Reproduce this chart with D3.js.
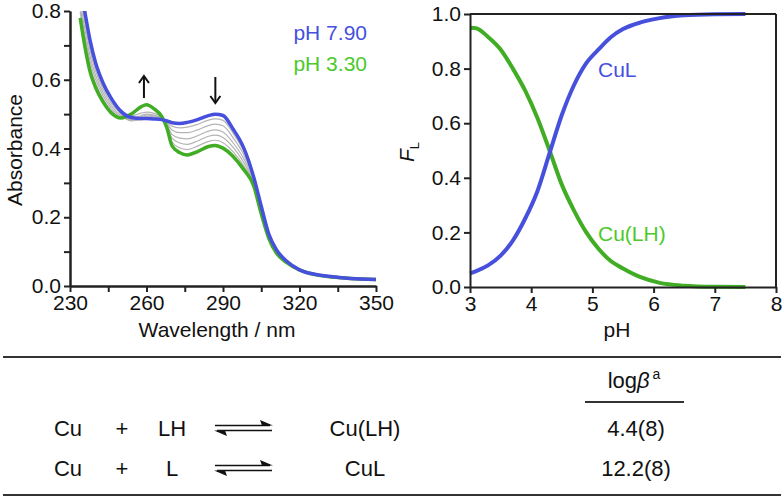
<!DOCTYPE html>
<html><head><meta charset="utf-8">
<script src="https://cdn.jsdelivr.net/npm/d3@7"></script>
<style>
html,body{margin:0;padding:0;background:#fff;}
svg{display:block;font-family:"Liberation Sans",Arial,sans-serif;}
.axis path,.axis line{stroke:#222;stroke-width:2px;}
.axis text{font-size:21px;fill:#111;font-family:"Liberation Sans",Arial,sans-serif;}
</style></head>
<body>
<svg id="c" width="784" height="498"></svg>
<script>
// ---------- Data ----------
const wavelengths = [234,236,238,240,243,246,250,254,258,260,263,266,268,270,273,276,280,284,287,290,294,298,302,305,308,311,315,320,326,333,340,350];
const absHighPH = [0.88,0.79,0.71,0.65,0.59,0.548,0.508,0.490,0.487,0.487,0.486,0.484,0.480,0.475,0.473,0.476,0.484,0.495,0.500,0.496,0.456,0.404,0.318,0.232,0.150,0.105,0.072,0.047,0.034,0.027,0.022,0.019];
const absLowPH  = [0.78,0.69,0.62,0.578,0.535,0.505,0.489,0.500,0.522,0.527,0.515,0.493,0.460,0.408,0.388,0.381,0.391,0.405,0.409,0.401,0.377,0.340,0.292,0.210,0.138,0.095,0.068,0.047,0.033,0.026,0.022,0.019];
const absMid1 = [0.865,0.775,0.697,0.639,0.582,0.542,0.505,0.484,0.483,0.489,0.488,0.485,0.477,0.465,0.460,0.462,0.470,0.482,0.486,0.482,0.444,0.394,0.314,0.229,0.148,0.104,0.071,0.047,0.034,0.027,0.022,0.019];
const absMid2 = [0.848,0.758,0.681,0.627,0.572,0.534,0.500,0.480,0.485,0.494,0.492,0.486,0.474,0.454,0.446,0.446,0.454,0.466,0.471,0.466,0.431,0.384,0.310,0.225,0.146,0.102,0.071,0.047,0.034,0.027,0.022,0.019];
const absMid3 = [0.830,0.740,0.665,0.614,0.562,0.526,0.495,0.482,0.492,0.498,0.495,0.488,0.470,0.441,0.430,0.428,0.437,0.450,0.454,0.448,0.416,0.372,0.305,0.221,0.144,0.100,0.070,0.047,0.034,0.027,0.022,0.019];
const absMid4 = [0.813,0.723,0.650,0.602,0.553,0.519,0.493,0.488,0.496,0.500,0.497,0.490,0.467,0.430,0.416,0.412,0.422,0.435,0.439,0.432,0.403,0.361,0.301,0.217,0.142,0.098,0.069,0.047,0.033,0.026,0.022,0.019];
const absMid5 = [0.797,0.707,0.635,0.590,0.544,0.512,0.491,0.494,0.503,0.506,0.502,0.491,0.463,0.419,0.402,0.397,0.407,0.420,0.424,0.417,0.390,0.351,0.296,0.214,0.140,0.097,0.068,0.047,0.033,0.026,0.022,0.019];
const spectraLabels = ["pH 7.90","pH 3.30"];
const wlTicks = [230,260,290,320,350];
const wlMinorTicks = [245,275,305,335];
const absTicks = [0.0,0.2,0.4,0.6,0.8];
const absMinorTicks = [0.1,0.3,0.5,0.7];

const pHvalues = [3.0,3.1,3.3,3.5,3.7,3.9,4.1,4.3,4.5,4.7,4.9,5.1,5.3,5.5,5.8,6.1,6.5,7.0,7.5];
const fracCuL   = [0.05,0.058,0.08,0.115,0.17,0.25,0.35,0.49,0.63,0.74,0.82,0.87,0.915,0.945,0.970,0.985,0.995,0.999,1.0];
const fracCuLH  = [0.95,0.948,0.915,0.87,0.80,0.72,0.62,0.50,0.375,0.28,0.20,0.14,0.095,0.068,0.035,0.015,0.005,0.001,0.0];
const speciesLabels = ["CuL","Cu(LH)"];
const pHTicks = [3,4,5,6,7,8];
const fracTicks = [0.0,0.2,0.4,0.6,0.8,1.0];

const eqReactantA = ["Cu","Cu"];
const eqReactantB = ["LH","L"];
const eqProduct = ["Cu(LH)","CuL"];
const logBeta = ["4.4(8)","12.2(8)"];

// ---------- Styles ----------
const BLUE = "#4650dc", GREEN_LINE = "#41ad24", GREEN_TEXT = "#4cc92c", GREY = "#b4b4b4";

const svg = d3.select("#c");

// ---------- Left panel ----------
const xL = d3.scaleLinear().domain([230,350]).range([70,376]);
const yL = d3.scaleLinear().domain([0,0.8]).range([286,11]);

svg.append("clipPath").attr("id","clipL").append("rect")
  .attr("x",70).attr("y",11).attr("width",310).attr("height",275);

const lineL = vals => d3.line().x((d,i)=>xL(wavelengths[i])).y(d=>yL(d)).curve(d3.curveMonotoneX)(vals);
const gL = svg.append("g").attr("clip-path","url(#clipL)");
[absMid1,absMid2,absMid3,absMid4,absMid5].forEach(v=>{
  gL.append("path").attr("d",lineL(v)).attr("fill","none").attr("stroke",GREY).attr("stroke-width",1.2);
});
gL.append("path").attr("d",lineL(absLowPH)).attr("fill","none").attr("stroke",GREEN_LINE).attr("stroke-width",3.5);
gL.append("path").attr("d",lineL(absHighPH)).attr("fill","none").attr("stroke",BLUE).attr("stroke-width",3.5);

// axes
svg.append("g").attr("class","axis").attr("transform","translate(0,286)")
  .call(d3.axisBottom(xL).tickValues(wlMinorTicks).tickSize(6).tickSizeOuter(0).tickFormat(""));
svg.append("g").attr("class","axis").attr("transform","translate(0,286)")
  .call(d3.axisBottom(xL).tickValues(wlTicks).tickSize(6).tickSizeOuter(0).tickPadding(3).tickFormat(d3.format("d")));
svg.append("g").attr("class","axis").attr("transform","translate(70,0)")
  .call(d3.axisLeft(yL).tickValues(absMinorTicks).tickSize(6).tickSizeOuter(0).tickFormat(""));
svg.append("g").attr("class","axis").attr("transform","translate(70,0)")
  .call(d3.axisLeft(yL).tickValues(absTicks).tickSize(6).tickSizeOuter(0).tickPadding(3).tickFormat(d3.format(".1f")));

svg.append("text").attr("x",217).attr("y",337).attr("text-anchor","middle")
  .attr("font-size",21).attr("fill","#111").text("Wavelength / nm");
svg.append("text").attr("transform","translate(22,150) rotate(-90)").attr("text-anchor","middle")
  .attr("font-size",21).attr("fill","#111").text("Absorbance");

svg.append("text").attr("x",367).attr("y",40).attr("text-anchor","end").attr("font-size",21)
  .attr("fill",BLUE).text(spectraLabels[0]);
svg.append("text").attr("x",367).attr("y",71).attr("text-anchor","end").attr("font-size",21)
  .attr("fill",GREEN_TEXT).text(spectraLabels[1]);

// arrows
function arrow(x, y1, y2){ // from y1 to y2 (head at y2)
  const g = svg.append("g").attr("stroke","#111").attr("stroke-width",2).attr("fill","none");
  g.append("line").attr("x1",x).attr("x2",x).attr("y1",y1).attr("y2",y2);
  const d = y2 < y1 ? 1 : -1;
  g.append("path").attr("d",`M${x-5},${y2+7*d} L${x},${y2} L${x+5},${y2+7*d}`);
}
arrow(xL(259), 98, 76);
arrow(xL(287), 77, 103);

// ---------- Right panel ----------
const xR = d3.scaleLinear().domain([3,8]).range([470,776]);
const yR = d3.scaleLinear().domain([0,1]).range([287,14]);
const lineR = vals => d3.line().x((d,i)=>xR(pHvalues[i])).y(d=>yR(d)).curve(d3.curveMonotoneX)(vals);

svg.append("path").attr("d",lineR(fracCuLH)).attr("fill","none").attr("stroke",GREEN_LINE).attr("stroke-width",4);
svg.append("path").attr("d",lineR(fracCuL)).attr("fill","none").attr("stroke",BLUE).attr("stroke-width",4);

// frame top/right
svg.append("line").attr("x1",xR(3)).attr("x2",xR(8)).attr("y1",yR(1)).attr("y2",yR(1)).attr("stroke","#222").attr("stroke-width",2);
svg.append("line").attr("x1",xR(8)).attr("x2",xR(8)).attr("y1",yR(1)).attr("y2",yR(0)).attr("stroke","#222").attr("stroke-width",2);

svg.append("g").attr("class","axis").attr("transform","translate(0,287)")
  .call(d3.axisBottom(xR).tickValues(pHTicks).tickSize(6).tickSizeOuter(0).tickPadding(3).tickFormat(d3.format("d")));
svg.append("g").attr("class","axis").attr("transform","translate(470,0)")
  .call(d3.axisLeft(yR).tickValues(fracTicks).tickSize(6).tickSizeOuter(0).tickPadding(3).tickFormat(d3.format(".1f")));

svg.append("text").attr("x",617).attr("y",337).attr("text-anchor","middle")
  .attr("font-size",21).attr("fill","#111").text("pH");
const fl = svg.append("text").attr("transform","translate(414,152) rotate(-90)").attr("text-anchor","middle")
  .attr("font-size",21).attr("fill","#111");
fl.append("tspan").attr("font-style","italic").text("F");
fl.append("tspan").attr("font-size",13).attr("dy",5).text("L");

svg.append("text").attr("x",598).attr("y",77).attr("font-size",21).attr("fill",BLUE).text(speciesLabels[0]);
svg.append("text").attr("x",598).attr("y",241).attr("font-size",21).attr("fill",GREEN_TEXT).text(speciesLabels[1]);

// ---------- Table ----------
svg.append("line").attr("x1",3).attr("x2",781).attr("y1",357).attr("y2",357).attr("stroke","#333").attr("stroke-width",2);
svg.append("line").attr("x1",3).attr("x2",781).attr("y1",495).attr("y2",495).attr("stroke","#333").attr("stroke-width",2);
svg.append("line").attr("x1",585).attr("x2",684).attr("y1",402).attr("y2",402).attr("stroke","#333").attr("stroke-width",2);

const hdr = svg.append("text").attr("x",634).attr("y",388).attr("text-anchor","middle").attr("font-size",22).attr("fill","#111");
hdr.append("tspan").text("log");
hdr.append("tspan").attr("font-style","italic").text("β");
hdr.append("tspan").attr("font-size",14).attr("dx",3).attr("dy",-9).text("a");

const rowY = [436,476];
rowY.forEach((y,i)=>{
  const t = (x,s)=>svg.append("text").attr("x",x).attr("y",y).attr("text-anchor","middle").attr("font-size",22).attr("fill","#111").text(s);
  t(68, eqReactantA[i]);
  t(122, "+");
  t(172, eqReactantB[i]);
  t(365, eqProduct[i]);
  t(636, logBeta[i]);
  // equilibrium harpoons
  const cy = y - 8;
  const g = svg.append("g");
  g.append("line").attr("x1",215).attr("x2",270).attr("y1",cy-2.5).attr("y2",cy-2.5).attr("stroke","#111").attr("stroke-width",1.6);
  g.append("path").attr("d",`M273,${cy-2.5} L260,${cy-8} L262,${cy-2.5} Z`).attr("fill","#111");
  g.append("line").attr("x1",217).attr("x2",272).attr("y1",cy+2.5).attr("y2",cy+2.5).attr("stroke","#111").attr("stroke-width",1.6);
  g.append("path").attr("d",`M214,${cy+2.5} L227,${cy+8} L225,${cy+2.5} Z`).attr("fill","#111");
});
</script>
</body></html>
